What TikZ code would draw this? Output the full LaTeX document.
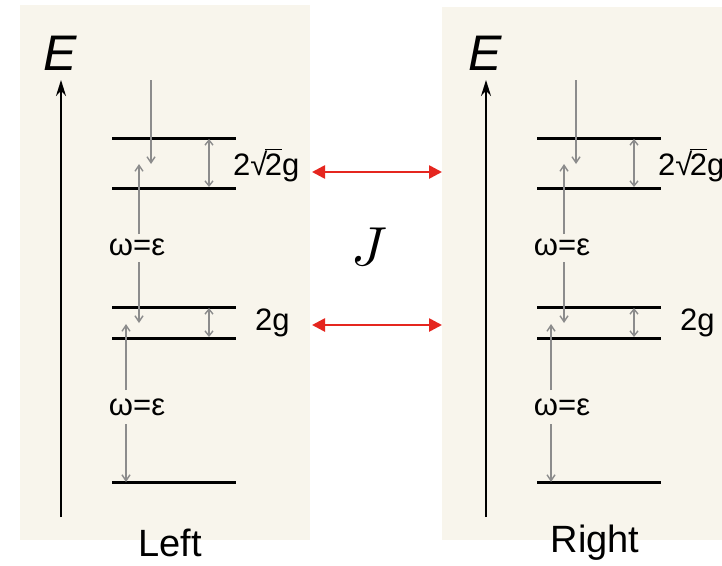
\documentclass[tikz,border=0pt]{standalone}
\usepackage{fontspec}
\usepackage{unicode-math}
\setmainfont{Liberation Sans}
\setmathfont{Latin Modern Math}
\usetikzlibrary{arrows.meta}
\definecolor{panelbg}{HTML}{F8F5EC}
\definecolor{photon}{HTML}{8C8C8C}
\definecolor{jred}{HTML}{E5261F}
\tikzset{
  panel/.style={fill=panelbg, draw=none},
  level/.style={line width=3pt, black},
  axis/.style={line width=1.8pt, black, -{Stealth[length=16pt,width=10pt]}},
  ph/.style={line width=1.4pt, photon, -{Straight Barb[length=6pt,width=8pt]}},
  split/.style={line width=1.4pt, photon, {Straight Barb[length=5pt,width=8pt]}-{Straight Barb[length=5pt,width=8pt]}},
  coup/.style={line width=2.6pt, jred, {Triangle[length=13pt,width=13pt]}-{Triangle[length=13pt,width=13pt]}},
  elab/.style={font=\fontsize{50}{56}\selectfont\itshape, inner sep=0pt},
  glab/.style={font=\fontsize{31}{36}\selectfont, inner sep=0pt, anchor=west},
  wlab/.style={font=\fontsize{31}{36}\selectfont, inner sep=1pt, fill=panelbg},
  side/.style={font=\fontsize{38}{44}\selectfont, inner sep=0pt},
}
\newcommand{\twosqrttwog}{2√\kern-0.08em\raisebox{0pt}{\mbox{$\overline{\mbox{2}}$}}g}
\begin{document}
\begin{tikzpicture}[x=1pt,y=-1pt]
\useasboundingbox (0,0) rectangle (722,565);
\fill[white] (0,0) rectangle (722,565);
\fill[panel] (20,5) rectangle (310,540);
\fill[panel] (442,7) rectangle (722,540);
\node[inner sep=0pt, text=black, font=\fontsize{55}{60}\selectfont] (J) at (370,247) {$J$};
\foreach \s/\name/\lab in {0/L/Left,425/R/Right}{
\begin{scope}[xshift=\s pt]
  \coordinate (\name axb) at (61,517);
  \coordinate (\name axt) at (61,80);
  \draw[axis] (\name axb) -- (\name axt);
  \node[elab] (\name E) at (60,53) {E};
  % levels
  \coordinate (\name a1) at (112,138); \coordinate (\name a2) at (236,138);
  \coordinate (\name b1) at (112,188); \coordinate (\name b2) at (236,188);
  \coordinate (\name c1) at (112,307); \coordinate (\name c2) at (236,307);
  \coordinate (\name d1) at (112,338); \coordinate (\name d2) at (236,338);
  \coordinate (\name e1) at (112,482); \coordinate (\name e2) at (236,482);
  \draw[level] (\name a1) -- (\name a2);
  \draw[level] (\name b1) -- (\name b2);
  \draw[level] (\name c1) -- (\name c2);
  \draw[level] (\name d1) -- (\name d2);
  \draw[level] (\name e1) -- (\name e2);
  % splittings
  \draw[split] (209,139) -- (209,187);
  \draw[split] (209,308) -- (209,337);
  \node[glab] (\name gA) at (233,165) {\twosqrttwog};
  \node[glab] (\name gB) at (255,323) {2g};
  % photon labels
  \node[wlab] (\name w1) at (137,247) {ω=ε};
  \node[wlab] (\name w2) at (137,407) {ω=ε};
  % photon arrows
  \draw[ph] (151,80) -- (151,164);
  \draw[ph] (139,234) -- (139,164);
  \draw[ph] (139,262) -- (139,323);
  \draw[ph] (126,390) -- (126,324);
  \draw[ph] (126,424) -- (126,482);
  \node[side] (\name side) at (170,543) {\lab};
\end{scope}
}
\draw[coup] (312,172) -- (442,172);
\draw[coup] (312,325) -- (442,325);
\end{tikzpicture}
\end{document}
